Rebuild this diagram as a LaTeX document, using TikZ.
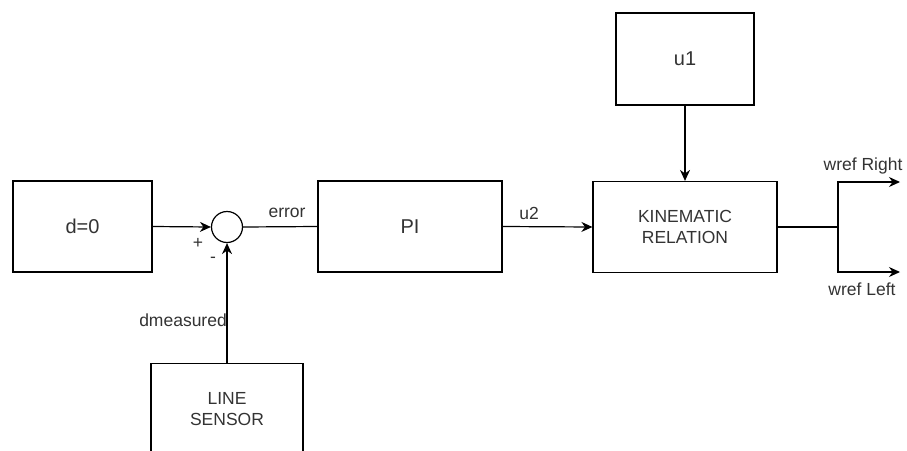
\documentclass[tikz,border=0pt]{standalone}
\usepackage{fontspec}
\setmainfont{Liberation Sans}
\usetikzlibrary{arrows.meta}
\definecolor{txt}{HTML}{333333}
\begin{document}
\begin{tikzpicture}[x=1pt,y=-1pt,
  blk/.style={draw=black, line width=1.2pt, minimum width=#1, inner sep=0pt, text=txt, align=center},
  big/.style={font=\fontsize{20}{22}\selectfont},
  med/.style={font=\fontsize{17.5}{21}\selectfont},
  lab/.style={text=txt, font=\fontsize{17.5}{20}\selectfont, inner sep=0pt},
  wire/.style={line width=1.2pt, draw=black},
  arr/.style={wire, -{Stealth[length=11pt,width=10pt]}}
]
\clip (0,0) rectangle (907,450);
\fill[white] (0,0) rectangle (907,450);
\node[blk=139pt, minimum height=91pt, big] (d0) at (82.5,226.5) {d=0};
\node[draw=black, line width=1.2pt, circle, minimum size=31pt, inner sep=0pt] (sum) at (227,227) {};
\node[blk=184pt, minimum height=91pt, big] (pi) at (410,226.5) {PI};
\node[blk=184pt, minimum height=91pt, med] (kin) at (685,227) {KINEMATIC\\RELATION};
\node[blk=138pt, minimum height=92pt, big] (u1) at (685,59) {u1};
\node[blk=152pt, minimum height=120pt, med, anchor=north] (ls) at (227,363) {};
\node[med, text=txt, align=center] (lstext) at (227,409) {LINE\\SENSOR};
\coordinate (br) at (838,227);
\coordinate (outr) at (900,182);
\coordinate (outl) at (900,272);
\draw[arr] (d0.east) -- (sum.west);
\draw[wire] (sum.east) -- (pi.west);
\draw[arr] (pi.east) -- (kin.west);
\draw[arr] (u1.south) -- (kin.north);
\draw[arr] (ls.north) -- (sum.south);
\draw[wire] (kin.east) -- (br);
\draw[arr] (br) |- (outr);
\draw[arr] (br) |- (outl);
\node[lab] (err) at (287,213) {error};
\node[lab] (u2) at (529,213) {u2};
\node[lab, anchor=east] (dm) at (227,320) {dmeasured};
\node[lab] (plus) at (198,243) {+};
\node[lab] (minus) at (213,260) {-};
\node[lab] (wr) at (863,166) {wref Right};
\node[lab] (wl) at (862,289) {wref Left};
\end{tikzpicture}
\end{document}
